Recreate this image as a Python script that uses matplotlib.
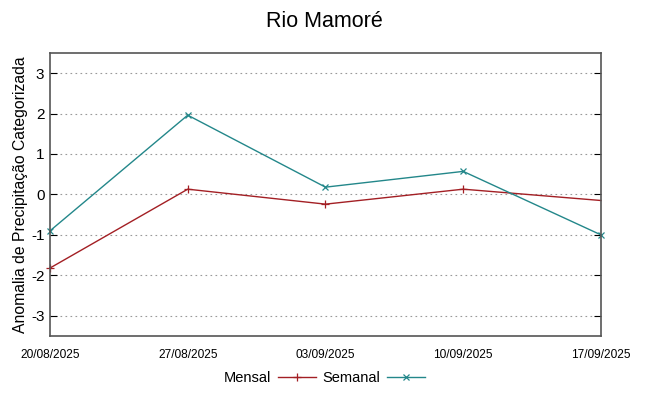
import matplotlib
matplotlib.use("Agg")
import matplotlib.pyplot as plt

plt.rcParams['font.family'] = ['Liberation Sans', 'DejaVu Sans']

datas = ["20/08/2025", "27/08/2025", "03/09/2025", "10/09/2025", "17/09/2025"]
mensal = [-1.82, 0.13, -0.24, 0.13, -0.15]
semanal = [-0.90, 1.96, 0.18, 0.57, -1.00]
yticks = [-3, -2, -1, 0, 1, 2, 3]

fig = plt.figure(figsize=(6.49, 3.96), dpi=100)
ax = fig.add_axes([0.077, 0.1515, 0.849, 0.715])

x = list(range(len(datas)))
ax.plot(x, mensal, color="#a31f24", lw=1.0, marker="+", ms=6, mew=0.9,
        markevery=[0, 1, 2, 3], label="Mensal", clip_on=False)
ax.plot(x, semanal, color="#23878a", lw=1.0, marker="x", ms=5, mew=0.9,
        label="Semanal", clip_on=False)

ax.set_xlim(0, len(datas) - 1)
ax.set_ylim(-3.5, 3.5)
ax.set_xticks(x)
ax.set_xticklabels(datas, fontsize=8.6)
ax.set_yticks(yticks)
ax.set_yticklabels([str(v) for v in yticks], fontsize=11)
ax.tick_params(axis="y", direction="in", right=True, length=5, color="black", pad=4)
ax.tick_params(axis="x", length=0, pad=9)
ax.yaxis.grid(True, linestyle=(0, (1.5, 3)), color="#999999", lw=0.8)
ax.set_axisbelow(True)
for s in ax.spines.values():
    s.set_color("#555555")
    s.set_linewidth(1.2)

ax.set_ylabel("Anomalia de Precipitação Categorizada", fontsize=11.3, labelpad=2)
fig.suptitle("Rio Mamoré", fontsize=15.5, y=0.972)

fig.legend(loc="lower center", bbox_to_anchor=(0.5, -0.005), ncol=2, frameon=False,
           markerfirst=False, fontsize=10.5, handlelength=2.6, columnspacing=0.4,
           handletextpad=0.5)

fig.savefig("out.png", dpi=100)
